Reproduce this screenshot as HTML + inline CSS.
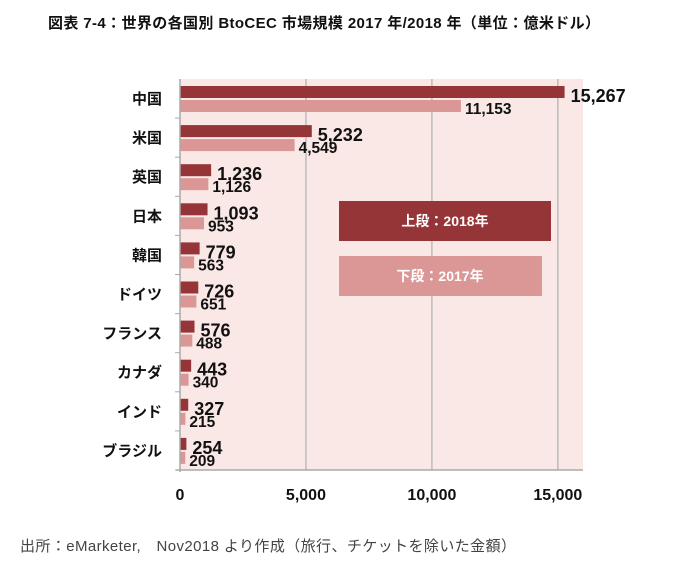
<!DOCTYPE html>
<html><head><meta charset="utf-8"><style>
body{margin:0;background:#fff;width:675px;height:568px;overflow:hidden;font-family:"Liberation Sans","Noto Sans CJK JP",sans-serif}
</style></head><body>
<svg width="675" height="568" xmlns="http://www.w3.org/2000/svg" style="font-family:'Liberation Sans','Noto Sans CJK JP',sans-serif">
<text x="48" y="28" font-size="15" font-weight="bold" fill="#111" textLength="552">図表 7-4：世界の各国別 BtoCEC 市場規模 2017 年/2018 年（単位：億米ドル）</text>
<rect x="180" y="79" width="403" height="391" fill="#f9e8e6"/>
<g id="grid"></g><g id="bars"></g>
<line x1="180" y1="79" x2="180" y2="472" stroke="#aaa" stroke-width="1.5"/>
<line x1="176" y1="470" x2="583" y2="470" stroke="#aaa" stroke-width="1.5"/>
<rect x="339" y="201" width="212" height="40" fill="#963537"/>
<text x="445" y="226" font-size="14" font-weight="bold" fill="#fff" text-anchor="middle">上段：2018年</text>
<rect x="339" y="256" width="203" height="40" fill="#db9796"/>
<text x="440" y="281" font-size="14" font-weight="bold" fill="#fff" text-anchor="middle">下段：2017年</text>
<text x="20" y="551" font-size="15" fill="#444" textLength="496">出所：eMarketer,　Nov2018 より作成（旅行、チケットを除いた金額）</text>
</svg>
<script>
const categories=["中国","米国","英国","日本","韓国","ドイツ","フランス","カナダ","インド","ブラジル"];
const values2018=[15267,5232,1236,1093,779,726,576,443,327,254];
const values2017=[11153,4549,1126,953,563,651,488,340,215,209];
const ticks=[0,5000,10000,15000];
const NS="http://www.w3.org/2000/svg";
const x=v=>180+v*0.02519;
const bandTop=i=>79+i*39.1;
function mk(t,a,p){const e=document.createElementNS(NS,t);for(const k in a)e.setAttribute(k,a[k]);p.appendChild(e);return e;}
const fmt=v=>v.toLocaleString('en-US');
const g=document.getElementById('grid'),b=document.getElementById('bars');
ticks.forEach(t=>{
 if(t>0){const l=mk('line',{x1:x(t),x2:x(t),y1:79,y2:470,stroke:'#bbb','stroke-width':1.5},g);
 
 }
 const tx=mk('text',{x:x(t),y:500,'font-size':16,'font-weight':'bold','text-anchor':'middle',fill:'#111'},g);tx.textContent=fmt(t);
 
 
});
categories.forEach((c,i)=>{
 const t0=bandTop(i);
 const tk=mk('line',{x1:175,x2:180,y1:t0+39.1,y2:t0+39.1,stroke:'#aaa'},g);
 
 
 const cl=mk('text',{x:162,y:t0+25,'font-size':15,'font-weight':'bold','text-anchor':'end',fill:'#111'},b);cl.textContent=c;
 
 
 const r1=mk('rect',{x:180,y:t0+7,width:x(values2018[i])-180,height:12,fill:'#963537'},b);
 
 
 const r2=mk('rect',{x:180,y:t0+21,width:x(values2017[i])-180,height:12,fill:'#db9796'},b);
 
 
 const l1=mk('text',{x:x(values2018[i])+6,y:t0+23,'font-size':18,'font-weight':'bold',fill:'#111'},b);l1.textContent=fmt(values2018[i]);
 
 
 const l2=mk('text',{x:x(values2017[i])+4,y:t0+35,'font-size':15.5,'font-weight':'bold',fill:'#111'},b);l2.textContent=fmt(values2017[i]);
 
 
});
</script>
</body></html>
